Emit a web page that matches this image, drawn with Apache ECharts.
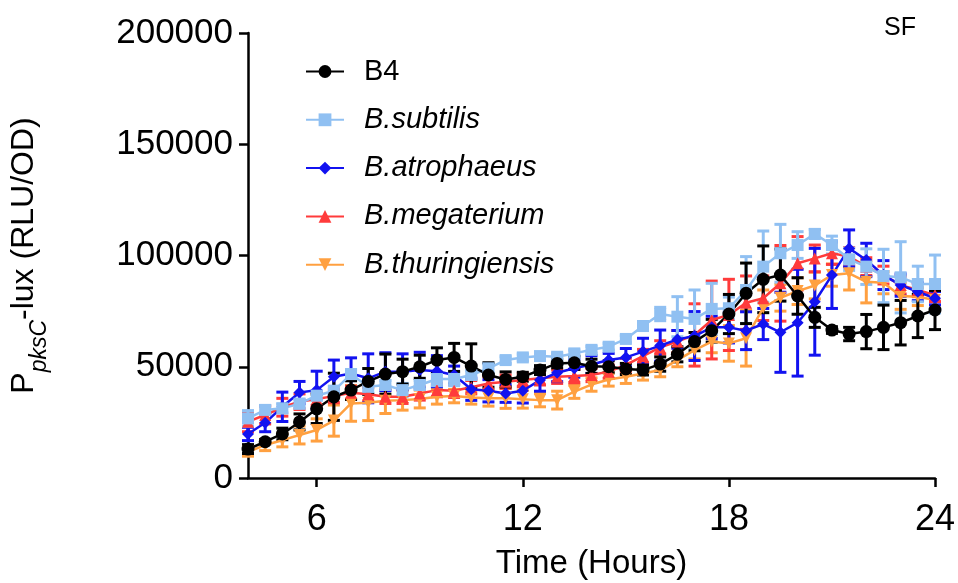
<!DOCTYPE html>
<html>
<head>
<meta charset="utf-8">
<script src="https://cdn.jsdelivr.net/npm/echarts@6/dist/echarts.min.js"></script>
<style>
html,body{margin:0;padding:0;background:#fff;}
#chart{width:958px;height:583px;}
</style>
</head>
<body>
<div id="chart"></div>
<script>
// ---- data ----
var hours = [4,4.5,5,5.5,6,6.5,7,7.5,8,8.5,9,9.5,10,10.5,11,11.5,12,12.5,13,13.5,14,14.5,15,15.5,16,16.5,17,17.5,18,18.5,19,19.5,20,20.5,21,21.5,22,22.5,23,23.5,24];
var xTicks = [6,12,18,24];
var yTicks = [0,50000,100000,150000,200000];
var seriesNames = ['B4','B.subtilis','B.atrophaeus','B.megaterium','B.thuringiensis'];

var b4Mean = [13000,16300,19800,25200,31100,36500,39500,43400,46700,47800,50000,53000,54200,50300,46300,44300,45500,48500,51500,51800,50200,50000,49000,48500,51200,55600,61300,66200,73700,83000,89300,91200,81800,72200,66500,64700,65800,67700,69800,72800,75500];
var b4Err  = [2000,1000,2600,3600,6600,10600,4200,5800,9000,5600,5200,5500,6300,10000,5500,3400,2000,2000,2000,3000,3200,2700,2500,2200,3200,3400,4100,5100,8800,13600,15000,11700,8200,4500,1500,3000,7700,10000,10000,9700,8800];

var subMean = [26800,30600,31300,33400,37000,39200,46700,41000,41800,39500,41800,44500,44500,46300,49300,53000,54200,54800,54500,56000,57600,59000,62500,68300,73700,72500,71500,76000,76300,84500,95000,101000,104700,109700,104700,98300,95000,90800,90200,87200,87200];
var subErr  = [3500,2000,2000,2000,2000,2000,2000,3000,2000,3000,2000,3000,3000,2000,2000,1500,1500,1500,1500,1500,1500,1500,1500,2000,3000,9000,13000,11500,5000,15000,16000,13000,6000,2000,4000,5000,8000,12000,16000,8000,13000];

var atrMean = [19800,24800,32000,38400,39500,45500,47000,44800,47800,47800,48500,48000,46300,39900,39200,38000,39200,44000,47300,49300,51000,53000,54200,56800,59500,62300,63800,67700,67700,66200,69200,65500,69800,79200,91200,103200,98000,91200,86700,83700,80800];
var atrErr  = [3000,4000,6600,5000,8500,7500,7000,11000,8500,8000,8000,7000,4000,5000,5000,4000,5500,5000,4000,4000,4000,3000,4000,6000,7000,4000,11000,5000,7000,8500,7000,18000,24000,24000,15000,8300,7500,6500,5000,4000,3000];

var megMean = [25300,28300,31800,34300,35500,36800,38300,37600,36500,36500,38000,39500,39200,40800,42500,43300,44000,44800,45500,45800,46300,47800,50800,54800,58700,61300,64300,71000,73300,78800,80800,87500,96500,98700,101000,99500,95000,91200,86700,84500,82200];
var megErr  = [4500,4000,4000,3500,3000,3000,3000,3000,3000,3000,3000,3000,3000,3000,3000,3000,3000,3000,3000,3000,3000,3000,3000,3000,3000,5000,14000,17500,16000,12000,10000,17000,12000,6000,5000,4000,4000,4000,4000,3000,3000];

var thuMean = [11800,14800,17000,19300,21600,25800,33500,33800,34700,35000,35500,36500,36800,36200,35800,35800,35400,35000,35000,38800,42000,44300,45500,47000,48500,53000,57500,61300,60500,62800,76500,81000,84000,86500,91200,92000,88200,87800,81800,81500,80000];
var thuErr  = [2000,2500,3000,4000,5000,7000,8000,8000,5700,4500,4000,3300,3000,3000,3500,4500,4000,3000,4000,3000,3000,3000,3000,3000,3000,3000,4000,5000,8000,12500,8000,6000,6000,6000,5000,7500,9500,5000,6000,4000,4000];

// ---- build ----
var colors = {
  'B4': '#000000',
  'B.subtilis': '#90C0F2',
  'B.atrophaeus': '#1212F0',
  'B.megaterium': '#FF3B3B',
  'B.thuringiensis': '#FFA040'
};
var defs = [
  {name:'B.thuringiensis', mean:thuMean, err:thuErr, symbol:'triangle', rot:180, size:12},
  {name:'B.megaterium', mean:megMean, err:megErr, symbol:'triangle', rot:0, size:12},
  {name:'B.atrophaeus', mean:atrMean, err:atrErr, symbol:'diamond', rot:0, size:12},
  {name:'B.subtilis', mean:subMean, err:subErr, symbol:'rect', rot:0, size:12},
  {name:'B4', mean:b4Mean, err:b4Err, symbol:'circle', rot:0, size:13}
];

function pairs(m){ return hours.map(function(h,i){ return [h, m[i]]; }); }
function errs(m,e){ return hours.map(function(h,i){ return [h, m[i]-e[i], m[i]+e[i]]; }); }
function errRender(color){
  return function(params, api){
    var x = api.value(0), lo = api.value(1), hi = api.value(2);
    var pL = api.coord([x, lo]), pH = api.coord([x, hi]);
    var hw = 6;
    var st = {stroke: color, lineWidth: 3};
    return {type:'group', children:[
      {type:'line', shape:{x1:pL[0], y1:pL[1], x2:pH[0], y2:pH[1]}, style:st},
      {type:'line', shape:{x1:pL[0]-hw, y1:pL[1], x2:pL[0]+hw, y2:pL[1]}, style:st},
      {type:'line', shape:{x1:pH[0]-hw, y1:pH[1], x2:pH[0]+hw, y2:pH[1]}, style:st}
    ]};
  };
}

var series = [];
defs.forEach(function(d){
  var c = colors[d.name];
  series.push({
    type:'custom', name:d.name+'_err', data:errs(d.mean,d.err),
    renderItem: errRender(c), encode:{x:0, y:[1,2]}, clip:false, silent:true
  });
  series.push({
    type:'line', name:d.name, data:pairs(d.mean),
    symbol:d.symbol, symbolRotate:d.rot, symbolSize:d.size,
    itemStyle:{color:c}, lineStyle:{color:c, width:2.5},
    clip:false, animation:false
  });
});

var chart = echarts.init(document.getElementById('chart'));
chart.setOption({
  animation:false,
  title:{text:'SF', left:879, top:11, textStyle:{fontFamily:'Liberation Sans', fontSize:25, fontWeight:'normal', color:'#000'}},
  legend:{
    orient:'vertical', left:300, top:52, itemWidth:38, itemHeight:16, itemGap:19.3,
    data: seriesNames.map(function(n,i){
      return {name:n, textStyle:{fontStyle: i===0 ? 'normal' : 'italic'}};
    }),
    textStyle:{fontFamily:'Liberation Sans', fontSize:29, color:'#000', padding:[0,0,0,15], lineHeight:28}
  },
  grid:{left:248, right:23, top:33, bottom:105, containLabel:false, outerBoundsMode:'none'},
  xAxis:{
    type:'value', min:4, max:24,
    name:'Time (Hours)', nameLocation:'middle', nameGap:69,
    nameTextStyle:{fontFamily:'Liberation Sans', fontSize:33, color:'#000'},
    axisLine:{show:true, onZero:false, lineStyle:{color:'#000', width:2.5}},
    axisTick:{show:true, length:9, lineStyle:{color:'#000', width:2.5}, customValues:xTicks},
    axisLabel:{fontFamily:'Liberation Sans', fontSize:36, color:'#000', margin:24, customValues:xTicks},
    splitLine:{show:false}
  },
  yAxis:{
    type:'value', min:0, max:200000, interval:50000,
    name:'{a|P}{b|pksC}{a|-lux (RLU/OD)}', nameLocation:'middle', nameGap:200,
    nameTextStyle:{
      color:'#000',
      rich:{
        a:{fontFamily:'Liberation Sans', fontSize:32, color:'#000', lineHeight:40, verticalAlign:'top'},
        b:{fontFamily:'Liberation Sans', fontSize:23, fontStyle:'italic', color:'#000', lineHeight:22, padding:[20,0,0,0], verticalAlign:'top'}
      }
    },
    axisLine:{show:true, lineStyle:{color:'#000', width:2.5}},
    axisTick:{show:true, length:9, lineStyle:{color:'#000', width:2.5}},
    axisLabel:{fontFamily:'Liberation Sans', fontSize:35, color:'#000', margin:15,
      customValues: yTicks, formatter:function(v){ return String(v); }},
    splitLine:{show:false}
  },
  series: series
});
</script>
</body>
</html>
